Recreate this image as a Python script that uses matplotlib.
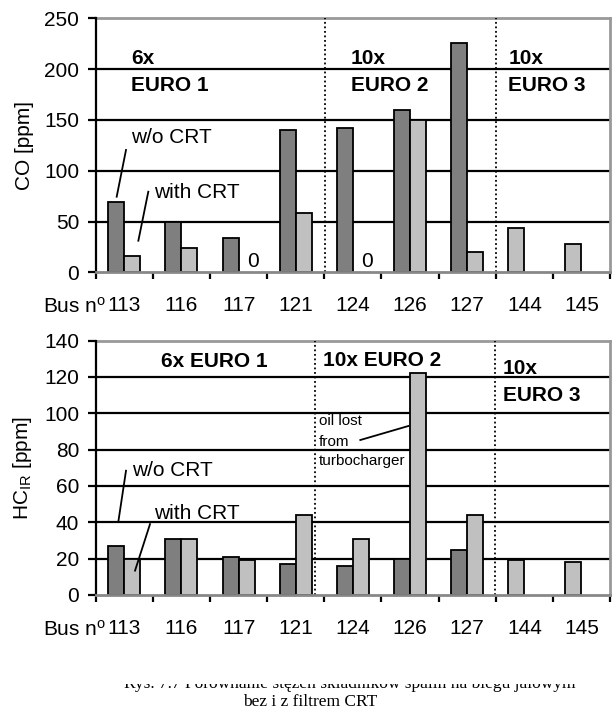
import matplotlib
matplotlib.use("Agg")
import matplotlib.pyplot as plt
import numpy as np
from matplotlib.patches import Rectangle

plt.rcParams['font.family'] = ['Liberation Sans', 'DejaVu Sans']
plt.rcParams['mathtext.fontset'] = 'custom'
plt.rcParams['mathtext.rm'] = 'Liberation Sans'
plt.rcParams['mathtext.it'] = 'Liberation Sans:italic'
plt.rcParams['mathtext.bf'] = 'Liberation Sans:bold'

buses = ["113", "116", "117", "121", "124", "126", "127", "144", "145"]
co_without = [69, 50, 34, 140, 142, 160, 226, None, None]
co_with = [16, 24, 0, 58, 0, 150, 20, 44, 28]
hc_without = [27, 31, 21, 17, 16, 20, 25, None, None]
hc_with = [20, 31, 19, 44, 31, 122, 44, 19, 18]
co_ticks = [0, 50, 100, 150, 200, 250]
hc_ticks = [0, 20, 40, 60, 80, 100, 120, 140]

DARK = '#7f7f7f'
LIGHT = '#c0c0c0'
W = 0.28
FS = 15

fig = plt.figure(figsize=(6.12, 7.11), dpi=100)
ax1 = fig.add_axes([0.1564, 0.6170, 0.8404, 0.3573])
ax2 = fig.add_axes([0.1564, 0.1632, 0.8404, 0.3577])


def draw(ax, wo, wi, ticks, ylabel):
    x = np.arange(len(buses))
    ymax = ticks[-1]
    for t in ticks[1:-1]:
        ax.axhline(t, color='black', lw=1.6, zorder=0)
    ax.axhline(ticks[-1], color='#999999', lw=2.0, zorder=0, clip_on=False)
    for i in x:
        if wo[i] is not None:
            ax.bar(i - W / 2, wo[i], width=W, color=DARK, edgecolor='black', lw=1.3, zorder=2)
            if wi[i] > 0:
                ax.bar(i + W / 2, wi[i], width=W, color=LIGHT, edgecolor='black', lw=1.3, zorder=2)
        else:
            ax.bar(i - W / 2, wi[i], width=W, color=LIGHT, edgecolor='black', lw=1.3, zorder=2)
    ax.set_xlim(-0.5, len(buses) - 0.5)
    ax.set_ylim(0, ymax)
    ax.set_yticks(ticks)
    ax.set_yticklabels([str(t) for t in ticks], fontsize=FS)
    ax.set_xticks(x)
    ax.set_xticklabels(buses, fontsize=FS)
    ax.set_xticks(np.arange(len(buses) + 1) - 0.5, minor=True)
    ax.tick_params(axis='x', which='major', length=0, pad=17)
    ax.tick_params(axis='x', which='minor', length=5, width=1.6, color='black', direction='out')
    ax.tick_params(axis='y', which='major', length=6, width=1.6, pad=6)
    ax.spines['top'].set_visible(False)
    ax.spines['left'].set_linewidth(1.6)
    ax.spines['right'].set_color('#999999')
    ax.spines['right'].set_linewidth(2)
    ax.spines['bottom'].set_color('#888888')
    ax.spines['bottom'].set_linewidth(2)
    ax.set_ylabel(ylabel, fontsize=FS, labelpad=7)


draw(ax1, co_without, co_with, co_ticks, 'CO [ppm]')
draw(ax2, hc_without, hc_with, hc_ticks, 'HC$_{\\mathrm{IR}}$ [ppm]')

# group separators
for ax, xs in [(ax1, [3.52, 6.5]), (ax2, [3.34, 6.48])]:
    for xv in xs:
        ax.axvline(xv, color='black', lw=1.3, ls=(0, (1, 1.5)), zorder=1)

# top annotations
bold = dict(fontsize=FS, fontweight='bold', va='center', ha='left')
ax1.text(0.12, 210.6, '6x', **bold)
ax1.text(0.12, 183.4, 'EURO 1', **bold)
ax1.text(3.96, 210.6, '10x', **bold)
ax1.text(3.96, 183.4, 'EURO 2', **bold)
ax1.text(6.72, 210.6, '10x', **bold)
ax1.text(6.72, 183.4, 'EURO 3', **bold)
ax1.text(0.12, 133, 'w/o CRT', fontsize=FS, va='center', ha='left', zorder=3)
ax1.text(0.52, 78.3, 'with CRT', fontsize=FS, va='center', ha='left', zorder=3)
ax1.plot([-0.133, 0.03], [74.4, 120.4], color='black', lw=1.3, zorder=3)
ax1.plot([0.246, 0.42], [31.1, 79.3], color='black', lw=1.3, zorder=3)
ax1.text(2.15, 10.4, '0', fontsize=FS, va='center', ha='left')
ax1.text(4.14, 10.4, '0', fontsize=FS, va='center', ha='left')

# bottom annotations
ax2.text(0.643, 128.4, '6x EURO 1', **bold)
ax2.text(3.47, 129, '10x EURO 2', **bold)
ax2.text(6.62, 124.8, '10x', **bold)
ax2.text(6.62, 109.6, 'EURO 3', **bold)
ax2.text(0.14, 68.4, 'w/o CRT', fontsize=FS, va='center', ha='left', zorder=3)
ax2.text(0.52, 45, 'with CRT', fontsize=FS, va='center', ha='left', zorder=3)
ax2.plot([-0.104, 0.03], [40.4, 68.4], color='black', lw=1.3, zorder=3)
ax2.plot([0.188, 0.45], [13.4, 39], color='black', lw=1.3, zorder=3)
ax2.text(3.41, 95.8, 'oil lost', fontsize=11, va='center', ha='left', zorder=3)
ax2.text(3.41, 84, 'from', fontsize=11, va='center', ha='left', zorder=3)
ax2.text(3.41, 73.9, 'turbocharger', fontsize=11, va='center', ha='left', zorder=3)
ax2.plot([4.13, 4.97], [85.3, 93], color='black', lw=1.3, zorder=3)

# "Bus n°" prefix labels
for ypx in [306.7, 630]:
    fig.text(106.5 / 612, 1 - ypx / 711, 'Bus n$^{\\mathrm{o}}$', fontsize=FS,
             ha='right', va='center')

# caption (first line partly cut off in the source)
fig.text(350 / 612, 1 - 688 / 711,
         'Rys. 7.7 Porównanie stężeń składników spalin na biegu jałowym',
         fontsize=12.5, family=['Liberation Serif'], ha='center', va='baseline', zorder=1)
fig.patches.append(Rectangle((0, 1 - 684 / 711), 1, 30 / 711, transform=fig.transFigure,
                             facecolor='white', edgecolor='none', zorder=5))
fig.text(310 / 612, 1 - 702 / 711, 'bez i z filtrem CRT', fontsize=12.5,
         family=['Liberation Serif'], ha='center', va='center')

fig.savefig('out.png', dpi=100)
